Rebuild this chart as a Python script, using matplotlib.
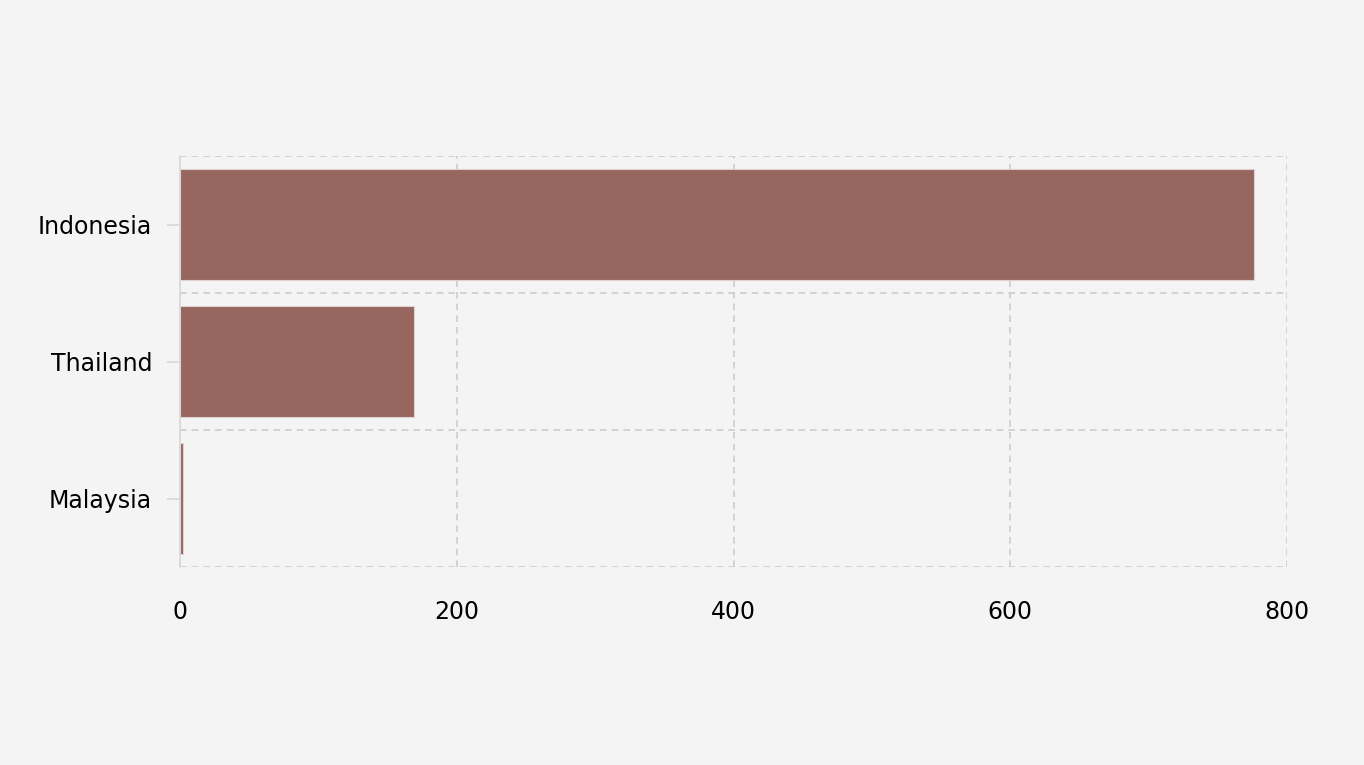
import matplotlib
matplotlib.use("Agg")
import matplotlib.pyplot as plt

countries = ["Indonesia", "Thailand", "Malaysia"]
values = [776, 169, 2]
x_ticks = [0, 200, 400, 600, 800]

bg = "#F4F4F4"
bar_color = "#97675F"
grid_color = "#CDCDCD"

fig = plt.figure(figsize=(13.64, 7.65), dpi=100, facecolor=bg)
ax = fig.add_axes([180/1364, 1-567/765, (1287-180)/1364, (567-156)/765])
ax.set_facecolor(bg)

pos = list(range(len(countries)))
ax.barh(pos, values, height=0.81, color=bar_color, edgecolor="#E0D0CE", linewidth=0.8, zorder=2)

ax.set_ylim(len(countries) - 0.5, -0.5)
ax.set_xlim(0, 800)
ax.set_yticks(pos)
ax.set_yticklabels(countries)
ax.set_yticks([p - 0.5 for p in pos] + [len(countries) - 0.5], minor=True)
ax.set_xticks(x_ticks)
ax.set_xticklabels([str(t) for t in x_ticks])

ax.grid(True, axis="x", which="major", color=grid_color, linestyle=(0, (4, 3)), linewidth=1.2, zorder=3)
ax.grid(True, axis="y", which="minor", color=grid_color, linestyle=(0, (4, 3)), linewidth=1.2, zorder=3)
ax.grid(False, axis="y", which="major")

for s in ["top", "right", "bottom"]:
    ax.spines[s].set_visible(False)
ax.spines["left"].set_color("#D8D8D8")
ax.spines["left"].set_linewidth(1.2)
ax.spines["left"].set_zorder(4)

ax.tick_params(axis="y", which="major", length=9.5, width=1.2, color="#D8D8D8", pad=10.5, labelsize=17, labelcolor="black")
ax.tick_params(axis="y", which="minor", length=0)
ax.tick_params(axis="x", which="major", length=0, pad=24, labelsize=17, labelcolor="black")

fig.savefig("out.png", dpi=100, facecolor=bg)
